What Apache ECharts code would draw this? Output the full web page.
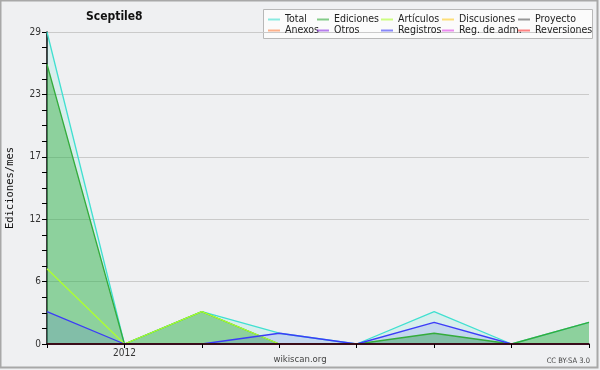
<!DOCTYPE html>
<html>
<head>
<meta charset="utf-8">
<script src="https://cdn.jsdelivr.net/npm/echarts@6/dist/echarts.min.js"></script>
<style>
  html, body { margin: 0; padding: 0; background: #eff0f2; }
  #chart { width: 600px; height: 370px; }
</style>
</head>
<body>
<div id="chart"></div>
<script>
// months, Dec 2011 .. Jul 2012
const months = ['2011-12', '2012-01', '2012-02', '2012-03', '2012-04', '2012-05', '2012-06', '2012-07'];
const yTicks = [0, 6, 12, 17, 23, 29];

const total = [29, 0, 3, 1, 0, 3, 0, 2];
const ediciones = [26, 0, 3, 0, 0, 1, 0, 2];
const articulos = [7, 0, 3, 0, 0, 0, 0, 0];
const discusiones = [0, 0, 0, 0, 0, 0, 0, 0];
const proyecto = [0, 0, 0, 0, 0, 0, 0, 0];
const anexos = [0, 0, 0, 0, 0, 0, 0, 0];
const otros = [0, 0, 0, 0, 0, 0, 0, 0];
const registros = [3, 0, 0, 1, 0, 2, 0, 0];
const regAdm = [0, 0, 0, 0, 0, 0, 0, 0];
const reversiones = [0, 0, 0, 0, 0, 0, 0, 0];

const FONT = 'DejaVu Sans Condensed';
const chart = echarts.init(document.getElementById('chart'));

function line(name, data, color, area) {
  const s = {
    name,
    type: 'line',
    data,
    itemStyle: { color },
    showSymbol: false,
    lineStyle: { color, width: 1.3 },
    emphasis: { disabled: true },
    animation: false,
  };
  if (area) s.areaStyle = { color, opacity: area };
  return s;
}

const legendText = { fontFamily: FONT, fontSize: 10.5, color: '#222', lineHeight: 10, padding: [0, 0, 0, 0] };
function legendCol(left, names) {
  return {
    left, top: 14, orient: 'vertical', icon: 'rect',
    itemWidth: 12, itemHeight: 2, itemGap: 0, padding: 0,
    itemStyle: { opacity: 0.6 },
    textStyle: legendText, data: names, selectedMode: false,
  };
}

const yMax = yTicks[yTicks.length - 1];

chart.setOption({
  backgroundColor: '#eff0f2',
  animation: false,
  title: {
    text: 'Sceptile8', left: 86, top: 11, padding: 0,
    textStyle: { fontFamily: FONT, fontSize: 12, fontWeight: 'bold', color: '#111' },
  },
  graphic: [
    { type: 'rect', shape: { x: 0.5, y: 0.5, width: 597, height: 367 }, style: { fill: 'none', stroke: '#a8a8a8', lineWidth: 2 }, silent: true },
    { type: 'rect', shape: { x: 263.5, y: 9.5, width: 329, height: 29 }, style: { fill: '#fbfbfb', stroke: '#b8b8b8', lineWidth: 1 }, z: -1, silent: true },
    { type: 'text', left: 'center', top: 355, style: { text: 'wikiscan.org', fontFamily: FONT, fontSize: 9.5, fill: '#444' } },
    { type: 'text', right: 10, top: 357, style: { text: 'CC BY-SA 3.0', fontFamily: FONT, fontSize: 7.5, fill: '#444' } },
  ],
  legend: [
    legendCol(268, ['Total', 'Anexos']),
    legendCol(317, ['Ediciones', 'Otros']),
    legendCol(381, ['Artículos', 'Registros']),
    legendCol(442, ['Discusiones', 'Reg. de adm.']),
    legendCol(518, ['Proyecto', 'Reversiones']),
  ],
  grid: { left: 47, right: 11, top: 32, bottom: 26, outerBoundsMode: 'none' },
  xAxis: {
    type: 'category',
    data: months,
    boundaryGap: false,
    z: 10,
    axisLine: { lineStyle: { color: '#000', width: 1.5 } },
    axisTick: { alignWithLabel: true, interval: 0, length: 4, lineStyle: { color: '#000' } },
    axisLabel: {
      interval: 0, margin: 4, fontFamily: FONT, fontSize: 10, color: '#333',
      formatter: v => (v.endsWith('-01') ? v.slice(0, 4) : ''),
    },
  },
  yAxis: {
    type: 'value',
    min: 0, max: yMax, interval: yMax / 5,
    name: 'Ediciones/mes',
    nameLocation: 'middle', nameRotate: 90, nameGap: 31,
    nameTextStyle: { fontFamily: 'DejaVu Sans Mono', fontSize: 10.5, color: '#111' },
    axisLine: { show: true, lineStyle: { color: '#000', width: 1.5 } },
    axisTick: { show: true, length: 5, lineStyle: { color: '#000' } },
    minorTick: { show: true, splitNumber: 4, length: 5, lineStyle: { color: '#000' } },
    splitLine: { lineStyle: { color: '#cacaca' } },
    axisLabel: {
      margin: 6, fontFamily: FONT, fontSize: 10, color: '#333',
      formatter: v => String(yTicks[Math.round(v / (yMax / 5))]),
    },
  },
  series: [
    line('Total', total, '#40e0d0', 0.13),
    line('Ediciones', ediciones, '#34ac3c', 0.45),
    line('Artículos', articulos, '#adff2f'),
    line('Discusiones', discusiones, '#ffcc22'),
    line('Proyecto', proyecto, '#555555'),
    line('Anexos', anexos, '#ff7f3f'),
    line('Otros', otros, '#8a2be2'),
    line('Registros', registros, '#3c3cf8', 0.13),
    line('Reg. de adm.', regAdm, '#e040e8'),
    line('Reversiones', reversiones, '#ff3030'),
  ],
});
</script>
</body>
</html>
